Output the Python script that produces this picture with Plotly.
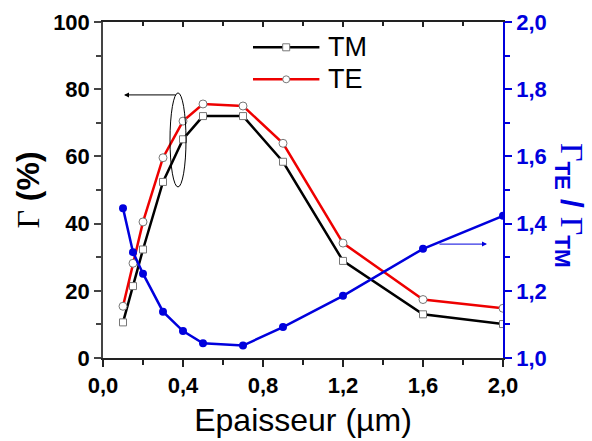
import plotly.graph_objects as go

thickness = [0.1, 0.15, 0.2, 0.3, 0.4, 0.5, 0.7, 0.9, 1.2, 1.6, 2.0]
gamma_tm = [10.6, 21.4, 32.3, 52.4, 65.1, 72.0, 72.0, 58.4, 28.9, 13.0, 10.1]
gamma_te = [15.4, 28.2, 40.5, 59.6, 70.5, 75.6, 75.0, 63.9, 34.2, 17.4, 14.8]
ratio_te_tm = [1.446, 1.315, 1.251, 1.138, 1.080, 1.044, 1.037, 1.092, 1.185, 1.325, 1.423]
legend_labels = ["TM", "TE"]

FONT = "Liberation Sans, Arial, sans-serif"
SERIF = "Liberation Serif, Times New Roman, serif"
BLUE = "#0000dd"
RED = "#ee0000"
MARKER_EDGE = "#777"

fig = go.Figure()
fig.add_trace(go.Scatter(
    x=thickness, y=gamma_tm, name=legend_labels[0], mode="lines+markers",
    line=dict(color="black", width=2.5),
    marker=dict(symbol="square", size=7, color="white", line=dict(color=MARKER_EDGE, width=1)),
))
fig.add_trace(go.Scatter(
    x=thickness, y=gamma_te, name=legend_labels[1], mode="lines+markers",
    line=dict(color=RED, width=2.5),
    marker=dict(symbol="circle", size=8, color="white", line=dict(color=MARKER_EDGE, width=1)),
))
fig.add_trace(go.Scatter(
    x=thickness, y=ratio_te_tm, name="ratio", mode="lines+markers", yaxis="y2",
    line=dict(color=BLUE, width=2.5),
    marker=dict(symbol="circle", size=8, color=BLUE),
))
# invisible trace to register the top axis
fig.add_trace(go.Scatter(x=[None], y=[None], xaxis="x2", hoverinfo="skip"))

tickfont = dict(family=FONT, size=22, color="black", weight="bold")

fig.update_layout(
    width=592, height=441,
    margin=dict(l=103, r=89, t=22, b=83, autoexpand=False),
    paper_bgcolor="white", plot_bgcolor="white",
    separators=",.",
    showlegend=False,
    xaxis=dict(
        range=[0, 2.0], dtick=0.4, tick0=0, tickformat=".1f", automargin=False,
        showgrid=False, zeroline=False,
        showline=True, linecolor="#222", linewidth=1.5,
        ticks="outside", ticklen=7, tickwidth=1.5, tickcolor="#222",
        minor=dict(dtick=0.2, ticks="outside", ticklen=5, tickwidth=1.5, tickcolor="#222"),
        tickfont=tickfont,
        title=dict(text="Epaisseur (µm)", font=dict(family=FONT, size=32, color="black"), standoff=11),
    ),
    xaxis2=dict(
        range=[0, 2.0], dtick=0.4, tick0=0, overlaying="x", side="top", anchor="y", automargin=False,
        showgrid=False, zeroline=False, showticklabels=False,
        showline=True, linecolor="#222", linewidth=1.5,
        ticks="inside", ticklen=5, tickwidth=1.5, tickcolor="#222",
        minor=dict(dtick=0.2, ticks="inside", ticklen=4, tickwidth=1.5, tickcolor="#222"),
    ),
    yaxis=dict(
        range=[0, 100], dtick=20, tick0=0, automargin=False,
        showgrid=False, zeroline=False,
        showline=True, linecolor="#444", linewidth=1.5,
        ticks="outside", ticklen=7, tickwidth=1.5, tickcolor="#444",
        minor=dict(dtick=10, ticks="outside", ticklen=5, tickwidth=1.5, tickcolor="#444"),
        tickfont=tickfont,
        title=dict(text="<span style='font-family:" + SERIF + ";font-weight:normal'>Γ</span> (%)",
                   font=dict(family=FONT, size=32, color="black", weight="bold"), standoff=4),
    ),
    yaxis2=dict(
        range=[1.0, 2.0], dtick=0.2, tick0=1.0, tickformat=".1f", automargin=False,
        overlaying="y", side="right", anchor="x",
        showgrid=False, zeroline=False,
        showline=True, linecolor=BLUE, linewidth=1.5,
        ticks="outside", ticklen=7, tickwidth=1.5, tickcolor=BLUE,
        minor=dict(dtick=0.1, ticks="outside", ticklen=5, tickwidth=1.5, tickcolor=BLUE),
        tickfont=dict(family=FONT, size=22, color=BLUE, weight="bold"),
    ),
)

# ellipse grouping the left-axis curves
fig.add_shape(type="circle", xref="x", yref="y", x0=0.335, x1=0.415, y0=50.9, y1=78.9,
              line=dict(color="black", width=1))
# arrow to left axis
fig.add_annotation(x=0.105, y=78.3, ax=0.37, ay=78.3, xref="x", yref="y", axref="x", ayref="y",
                   showarrow=True, arrowhead=2, arrowsize=1, arrowwidth=1, arrowcolor="black", text="")
# arrow to right axis
fig.add_annotation(x=1.92, y=1.339, ax=1.675, ay=1.339, xref="x", yref="y2", axref="x", ayref="y2",
                   showarrow=True, arrowhead=2, arrowsize=1, arrowwidth=1, arrowcolor=BLUE, text="")

# manual legend (long line samples like the reference)
leg_items = [
    (legend_labels[0], "black", "rect", 0.9247),
    (legend_labels[1], RED, "circle", 0.8294),
]
for label, col, sym, yy in leg_items:
    fig.add_shape(type="line", xref="paper", yref="paper", x0=0.375, x1=0.541, y0=yy, y1=yy,
                  line=dict(color=col, width=2.5))
    fig.add_shape(type=sym, xref="paper", yref="paper", xsizemode="pixel", ysizemode="pixel",
                  xanchor=0.458, yanchor=yy, x0=-3.5, x1=3.5, y0=-3.5, y1=3.5,
                  fillcolor="white", line=dict(color=MARKER_EDGE, width=1))
    fig.add_annotation(text=label, xref="paper", yref="paper", x=0.558, y=yy,
                       xanchor="left", yanchor="middle", showarrow=False,
                       font=dict(family=FONT, size=27, color="black"))

# right axis title
serif_g = "<span style='font-family:" + SERIF + ";font-weight:normal'>Γ</span>"
fig.add_annotation(
    text=serif_g + "<sub>TE</sub> / " + serif_g + "<sub>TM</sub>", textangle=90,
    xref="paper", yref="paper", x=1.168, y=0.455, xanchor="center", yanchor="middle",
    showarrow=False, font=dict(family=FONT, size=32, color=BLUE, weight="bold"),
)

fig.write_html("out.html")
